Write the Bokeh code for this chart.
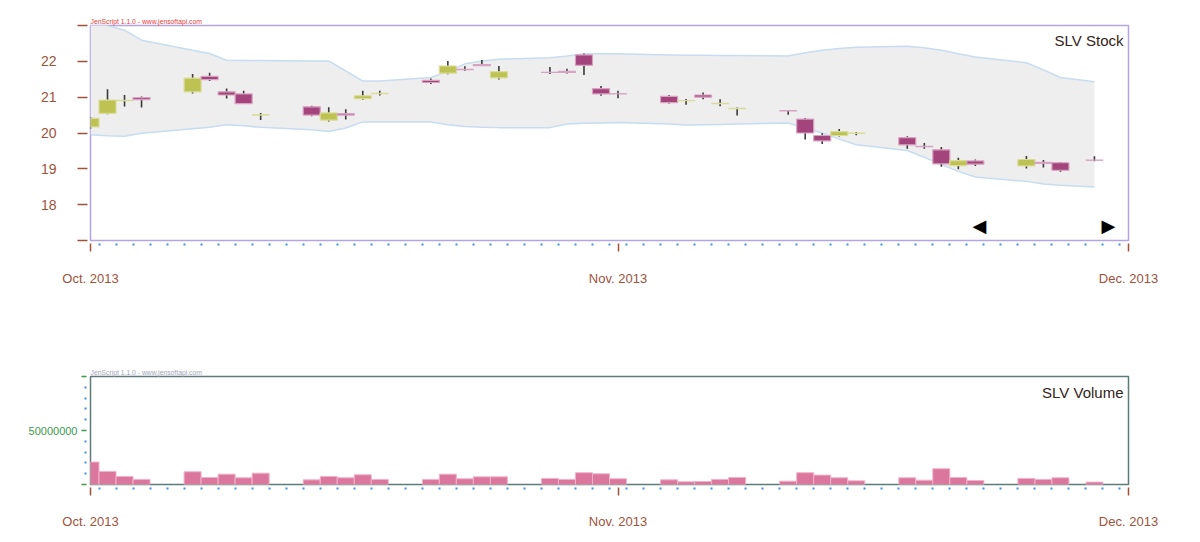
import pandas as pd
from bokeh.plotting import figure
from bokeh.models import Range1d, FixedTicker, Label
from bokeh.layouts import column
from bokeh.embed import file_html
from bokeh.resources import INLINE

# ---------------- data ----------------
dates = ["2013-10-01", "2013-10-02", "2013-10-03", "2013-10-04",
         "2013-10-07", "2013-10-08", "2013-10-09", "2013-10-10", "2013-10-11",
         "2013-10-14", "2013-10-15", "2013-10-16", "2013-10-17", "2013-10-18",
         "2013-10-21", "2013-10-22", "2013-10-23", "2013-10-24", "2013-10-25",
         "2013-10-28", "2013-10-29", "2013-10-30", "2013-10-31", "2013-11-01",
         "2013-11-04", "2013-11-05", "2013-11-06", "2013-11-07", "2013-11-08",
         "2013-11-11", "2013-11-12", "2013-11-13", "2013-11-14", "2013-11-15",
         "2013-11-18", "2013-11-19", "2013-11-20", "2013-11-21", "2013-11-22",
         "2013-11-25", "2013-11-26", "2013-11-27", "2013-11-29"]

opens = [20.17, 20.55, 20.90, 20.99,
         21.15, 21.58, 21.15, 21.09, 20.50,
         20.73, 20.36, 20.54, 20.96, 21.10,
         21.47, 21.67, 21.775, 21.91, 21.54,
         21.695, 21.72, 22.18, 21.24, 21.095,
         21.02, 20.90, 21.06, 20.82, 20.68,
         20.625, 20.39, 19.93, 19.93, 19.99,
         19.87, 19.625, 19.53, 19.09, 19.22,
         19.08, 19.18, 19.17, 19.245]
highs = [20.45, 21.22, 21.06, 21.02,
         21.65, 21.68, 21.24, 21.18, 20.56,
         20.76, 20.72, 20.66, 21.18, 21.18,
         21.52, 22.01, 21.86, 22.04, 21.87,
         21.84, 21.79, 22.22, 21.31, 21.18,
         21.06, 20.95, 21.13, 20.94, 20.71,
         20.64, 20.42, 19.99, 20.11, 20.03,
         19.91, 19.72, 19.61, 19.31, 19.26,
         19.36, 19.25, 19.19, 19.35]
lows = [20.12, 20.52, 20.74, 20.71,
        21.10, 21.45, 20.96, 20.81, 20.36,
        20.47, 20.32, 20.38, 20.93, 21.05,
        21.37, 21.64, 21.74, 21.87, 21.49,
        21.65, 21.66, 21.62, 21.04, 20.97,
        20.82, 20.79, 20.94, 20.75, 20.49,
        20.51, 19.82, 19.69, 19.90, 19.94,
        19.56, 19.56, 19.06, 18.99, 19.08,
        19.01, 19.04, 18.92, 19.21]
closes = [20.41, 20.92, 20.91, 20.93,
          21.53, 21.49, 21.06, 20.82, 20.51,
          20.50, 20.56, 20.50, 21.04, 21.11,
          21.41, 21.87, 21.77, 21.88, 21.71,
          21.69, 21.69, 21.89, 21.09, 21.09,
          20.85, 20.905, 21.00, 20.825, 20.685,
          20.62, 20.00, 19.78, 20.04, 19.995,
          19.67, 19.62, 19.14, 19.23, 19.13,
          19.26, 19.15, 18.96, 19.24]
volumes = [20800000, 12100000, 7400000, 4700000,
           11800000, 6500000, 9600000, 6200000, 10500000,
           4300000, 7400000, 6200000, 9000000, 4700000,
           4700000, 9600000, 5300000, 7100000, 7100000,
           5600000, 4700000, 10900000, 9900000, 5300000,
           4300000, 2500000, 2800000, 4700000, 6500000,
           3100000, 10900000, 8700000, 6200000, 3400000,
           6200000, 4000000, 14600000, 6500000, 3700000,
           5600000, 4700000, 6200000, 2200000]
band_upper = [23.05, 23.00, 22.87, 22.59,
              22.31, 22.22, 22.03, 22.02, 22.02,
              22.01, 22.01, 21.73, 21.45, 21.45,
              21.55, 21.72, 21.93, 22.01, 22.06,
              22.10, 22.15, 22.21, 22.21, 22.21,
              22.18, 22.17, 22.17, 22.16, 22.16,
              22.15, 22.24, 22.31, 22.36, 22.39,
              22.42, 22.38, 22.31, 22.21, 22.12,
              21.96, 21.76, 21.55, 21.43]
band_lower = [19.95, 19.92, 19.91, 19.99,
              20.12, 20.16, 20.23, 20.20, 20.16,
              20.09, 20.04, 20.14, 20.31, 20.31,
              20.31, 20.23, 20.18, 20.16, 20.15,
              20.15, 20.25, 20.27, 20.28, 20.29,
              20.25, 20.22, 20.23, 20.24, 20.25,
              20.28, 20.14, 20.00, 19.83, 19.67,
              19.51, 19.32, 19.12, 18.93, 18.77,
              18.65, 18.58, 18.54, 18.49]

month_starts = ["2013-10-01", "2013-11-01", "2013-12-01"]
month_labels = ["Oct. 2013", "Nov. 2013", "Dec. 2013"]
price_ticks = [17, 18, 19, 20, 21, 22, 23]
price_tick_labels = ["", "18", "19", "20", "21", "22", ""]
volume_ticks = [0, 50000000, 100000000]
volume_tick_labels = ["", "50000000", ""]
volume_minor_ticks = [10000000, 20000000, 30000000, 40000000,
                      60000000, 70000000, 80000000, 90000000]
watermark = "JenScript 1.1.0 - www.jensoftapi.com"

# ---------------- derived ----------------
start = pd.Timestamp(month_starts[0])
xs = [(pd.Timestamp(d) - start).days for d in dates]
month_x = [(pd.Timestamp(d) - start).days for d in month_starts]
x_end = month_x[-1]
day_minor = [i + 0.5 for i in range(x_end)]

UP_FILL, UP_LINE = "#bec252", "#d9dc98"
DN_FILL, DN_LINE = "#a4447c", "#d8a2c2"
up = [c >= o for o, c in zip(opens, closes)]
tops = [max(o, c) for o, c in zip(opens, closes)]
bottoms = [min(o, c) for o, c in zip(opens, closes)]
fills = [UP_FILL if u else DN_FILL for u in up]
lines = [UP_LINE if u else DN_LINE for u in up]

FONT = "Liberation Sans"
BROWN = "#a0523a"
BLUE = "#3d8fe0"
GREEN = "#3a9a4a"


def style_x(ax, standoff):
    ax.ticker = FixedTicker(ticks=month_x, minor_ticks=day_minor)
    ax.major_label_overrides = {t: l for t, l in zip(month_x, month_labels)}
    ax.axis_line_color = None
    ax.major_tick_line_color = BROWN
    ax.major_tick_line_width = 1.5
    ax.major_tick_in = -3
    ax.major_tick_out = 11
    ax.minor_tick_line_color = BLUE
    ax.minor_tick_line_width = 2
    ax.minor_tick_in = -3
    ax.minor_tick_out = 5
    ax.major_label_text_color = BROWN
    ax.major_label_text_font = FONT
    ax.major_label_text_font_size = "13px"
    ax.major_label_standoff = standoff


def style_title(fig, color):
    fig.title.text = watermark
    fig.title.align = "left"
    fig.title.text_font = FONT
    fig.title.text_font_size = "6.8px"
    fig.title.text_font_style = "normal"
    fig.title.text_color = color
    fig.title.standoff = 1


# ---------------- price chart ----------------
p = figure(width=1190, height=300, x_range=Range1d(0, x_end), y_range=Range1d(17, 23),
           output_backend="svg", toolbar_location=None,
           min_border_left=90, min_border_right=62, min_border_top=25, min_border_bottom=60)
p.grid.visible = False
p.outline_line_color = "#b4a5e2"
p.outline_line_width = 1.5
style_title(p, "#e8403a")

p.varea(x=xs, y1=band_lower, y2=band_upper, fill_color="#efeeee")
p.line(xs, band_upper, line_color="#c6dcf2", line_width=1.5)
p.line(xs, band_lower, line_color="#c6dcf2", line_width=1.5)
p.segment(x0=xs, y0=lows, x1=xs, y1=highs, line_color="#3a3a3a", line_width=1.6)
p.vbar(x=xs, width=1, top=tops, bottom=bottoms, fill_color=fills, line_color=lines, line_width=1.2)

style_x(p.xaxis[0], 19)

ya = p.yaxis[0]
ya.ticker = FixedTicker(ticks=price_ticks, minor_ticks=[])
ya.major_label_overrides = {t: l for t, l in zip(price_ticks, price_tick_labels)}
ya.axis_line_color = None
ya.major_tick_line_color = BROWN
ya.major_tick_line_width = 1.5
ya.major_tick_in = -3
ya.major_tick_out = 13
ya.minor_tick_line_color = None
ya.major_label_text_color = BROWN
ya.major_label_text_font = FONT
ya.major_label_text_font_size = "14px"
ya.major_label_standoff = 21

p.add_layout(Label(x=1033, y=200, x_units="screen", y_units="screen", text="SLV Stock",
                   text_align="right", text_baseline="middle", text_font=FONT,
                   text_font_size="15px", text_color="#33231a"))
p.add_layout(Label(x=889, y=15, x_units="screen", y_units="screen", text="◀",
                   text_align="center", text_baseline="middle", text_font="DejaVu Sans",
                   text_font_size="18px", text_color="black"))
p.add_layout(Label(x=1018, y=15, x_units="screen", y_units="screen", text="▶",
                   text_align="center", text_baseline="middle", text_font="DejaVu Sans",
                   text_font_size="18px", text_color="black"))

# ---------------- volume chart ----------------
v = figure(width=1190, height=234, x_range=p.x_range, y_range=Range1d(0, volume_ticks[-1]),
           output_backend="svg", toolbar_location=None,
           min_border_left=90, min_border_right=62, min_border_top=76, min_border_bottom=50)
v.grid.visible = False
v.outline_line_color = "#5d7b78"
v.outline_line_width = 1.5
style_title(v, "#a4a4bc")

v.vbar(x=xs, width=1, top=volumes, bottom=0, fill_color="#db769d",
       line_color="#f1b3c9", line_width=1)

style_x(v.xaxis[0], 18)

vy = v.yaxis[0]
vy.ticker = FixedTicker(ticks=volume_ticks, minor_ticks=volume_minor_ticks)
vy.major_label_overrides = {t: l for t, l in zip(volume_ticks, volume_tick_labels)}
vy.axis_line_color = None
vy.major_tick_line_color = GREEN
vy.major_tick_line_width = 1.5
vy.major_tick_in = -4
vy.major_tick_out = 9
vy.minor_tick_line_color = BLUE
vy.minor_tick_line_width = 2
vy.minor_tick_in = -4
vy.minor_tick_out = 6
vy.major_label_text_color = GREEN
vy.major_label_text_font = FONT
vy.major_label_text_font_size = "11px"
vy.major_label_standoff = 4

v.add_layout(Label(x=1033, y=92, x_units="screen", y_units="screen", text="SLV Volume",
                   text_align="right", text_baseline="middle", text_font=FONT,
                   text_font_size="15px", text_color="#33231a"))

layout = column(p, v)
open("out.html", "w").write(file_html(layout, INLINE))
